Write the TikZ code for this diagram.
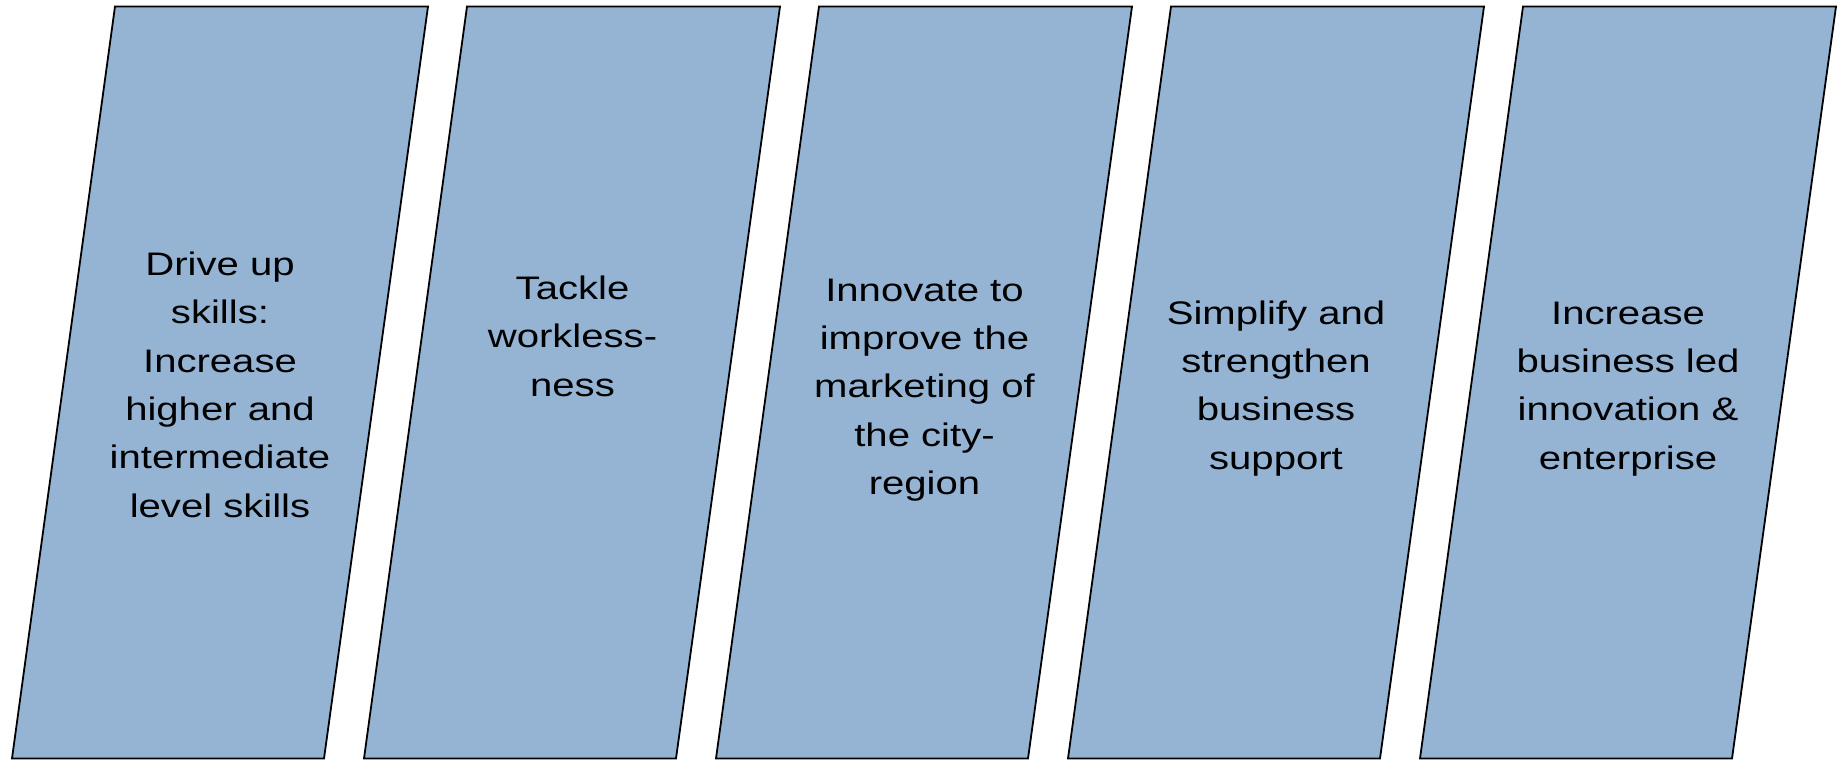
\documentclass[tikz,border=0pt]{standalone}
\usepackage{fontspec}
\setmainfont[FakeStretch=1.23]{Liberation Sans}
\definecolor{slatefill}{RGB}{149,180,212}
\begin{document}
\begin{tikzpicture}[x=0.5pt,y=-0.5pt,
  slantbox/.style={draw=black,fill=slatefill,line width=0.9pt,line join=miter},
  boxtext/.style={anchor=base,align=center,inner sep=0pt,text=black,
    font=\fontsize{16.3pt}{24.15pt}\selectfont}]
\useasboundingbox (0,0) rectangle (1845,760);
\foreach \i in {0,...,4}{
  \pgfmathsetmacro{\dx}{352*\i}
  \draw[slantbox] (115+\dx,6.5) -- (428+\dx,6.5) -- (324+\dx,758.5) -- (12+\dx,758.5) -- cycle;
}
% base anchor = baseline of the last line
\node[boxtext] (t1) at (220,517) {Drive up\\skills:\\Increase\\higher and\\intermediate\\level skills};
\node[boxtext] (t2) at (572.5,396) {Tackle\\workless-\\ness};
\node[boxtext] (t3) at (924.5,494.5) {Innovate to\\improve the\\marketing of\\the city-\\region};
\node[boxtext] (t4) at (1276,469) {Simplify and\\strengthen\\business\\support};
\node[boxtext] (t5) at (1628,469) {Increase\\business led\\innovation \&\\enterprise};
\end{tikzpicture}
\end{document}
